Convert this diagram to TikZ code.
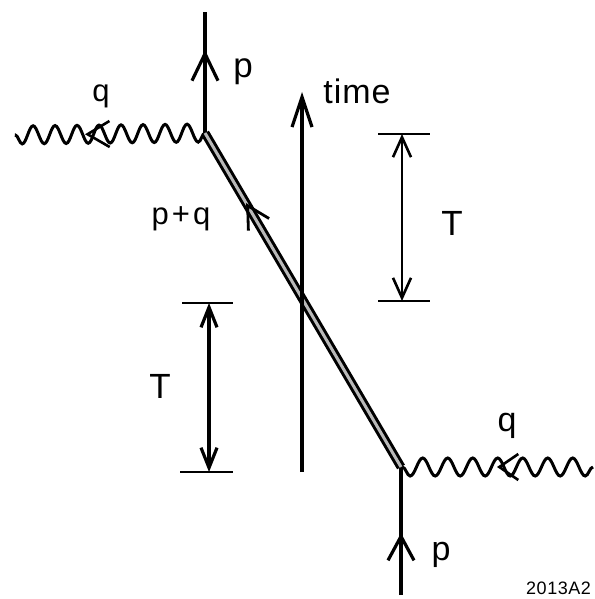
\documentclass[tikz,border=0pt]{standalone}
\usepackage{fontspec}
\setmainfont{Liberation Sans}
\usetikzlibrary{arrows.meta,decorations.markings,decorations.pathmorphing}
\begin{document}
\begin{tikzpicture}[x=1pt,y=-1pt,
  ln/.style={line width=3.2pt},
  thinln/.style={line width=2.6pt},
  arr/.style n args={3}{decoration={markings, mark=at position #1 with {\arrow{Straight Barb[length=#2,width=#3]}}}, postaction={decorate}},
  photon/.style={line width=3pt, decorate, decoration={snake, segment length=#1, amplitude=9pt}},
  dbl/.style={line width=3pt, double=gray!55, double distance=3pt},
  lbl/.style={inner sep=0pt, anchor=base, font=\fontsize{#1}{#1}\selectfont},
  dimtip/.tip={Straight Barb[length=20pt,width=18pt]},
  dimtipb/.tip={Straight Barb[length=20pt,width=16pt]}
]
\useasboundingbox (0,0) rectangle (594,599);
% vertices and free ends
\coordinate (v1) at (205,133);
\coordinate (v2) at (401,467);
\coordinate (ptop) at (205,12);
\coordinate (pbot) at (401,595);
\coordinate (qL) at (15,135);
\coordinate (qR) at (593,467);
\coordinate (t0) at (302,472);
\coordinate (t1) at (302,92);
% photons
\draw[photon=22pt] (v1) -- (qL);
\path[line width=2.6pt, arr={120pt}{22pt}{26pt}] (v1) -- (qL);
\draw[photon=25pt] (qR) -- (v2);
\path[line width=2.6pt, arr={96pt}{19pt}{26pt}] (qR) -- (v2);
% electron lines
\draw[ln, arr={83pt}{27pt}{26pt}] (v1) -- (ptop);
\draw[ln, arr={62pt}{24pt}{26pt}] (pbot) -- (v2);
\draw[dbl] (v2) -- (v1);
\path[line width=2.8pt, arr={306pt}{22pt}{24pt}] (v2) -- (v1);
% time axis
\draw[ln, -{Straight Barb[length=30pt,width=20pt]}] (t0) -- (t1);
% right T marker
\coordinate (a1) at (378,134); \coordinate (a2) at (430,134);
\coordinate (a3) at (378,301); \coordinate (a4) at (430,301);
\coordinate (at) at (402,134); \coordinate (ab) at (402,301);
\draw[thinln] (a1) -- (a2);
\draw[thinln] (a3) -- (a4);
\draw[thinln, dimtip-dimtip] (at) -- (ab);
% left T marker
\coordinate (b1) at (182,303); \coordinate (b2) at (233,303);
\coordinate (b3) at (180,472); \coordinate (b4) at (233,472);
\coordinate (bt) at (209,303); \coordinate (bb) at (209,472);
\draw[thinln] (b1) -- (b2);
\draw[thinln] (b3) -- (b4);
\draw[ln, dimtipb-dimtipb] (bt) -- (bb);
% labels
\node[lbl=35] (lp1) at (243,78) {p};
\node[lbl=31] (lq1) at (101,102) {q};
\node[lbl=34] (lq2) at (507,431) {q};
\node[lbl=34] (lp2) at (441,560) {p};
\node[lbl=34] (ltime) at (357,103) {t\kern1pt i\kern1pt m\kern1pt e};
\node[lbl=35] (lT1) at (452,235) {T};
\node[lbl=35] (lT2) at (160,398) {T};
\node[lbl=31] (lpq) at (181,224) {p\kern3pt+\kern3pt q};
\node[inner sep=0pt, anchor=base east, font=\fontsize{18}{18}\selectfont] (code) at (591,594) {2\kern0.5pt 0\kern0.5pt 1\kern0.5pt 3\kern0.5pt A\kern0.5pt 2};
\end{tikzpicture}
\end{document}
